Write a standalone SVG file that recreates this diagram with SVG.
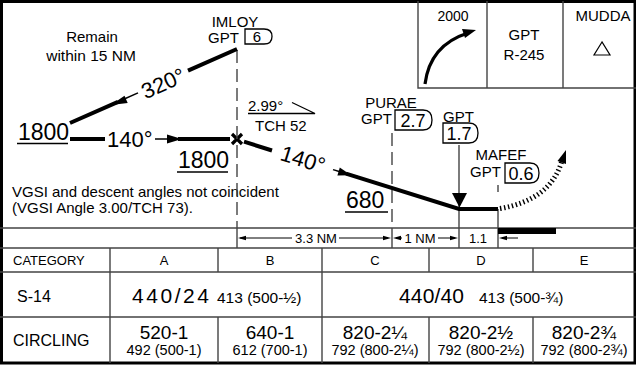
<svg xmlns="http://www.w3.org/2000/svg" width="636" height="365" viewBox="0 0 636 365">
<style>
text{font-family:"Liberation Sans",Arial,sans-serif;fill:#000}
.s15{font-size:15px}
.s13{font-size:13px}
.big{font-size:23px}
.mid{font-size:21px}
.c{text-anchor:middle}
.thick{stroke:#000;stroke-width:4;fill:none}
.thin{stroke:#000;stroke-width:1.5;fill:none}
.grid{stroke:#444;stroke-width:1.4;fill:none}
.dash{stroke:#444;stroke-width:1.4;fill:none;stroke-dasharray:13 6}
.box{stroke:#000;stroke-width:1.3;fill:#fff}
.ul{stroke:#000;stroke-width:1.3;fill:none}
.head{fill:#000}
</style>

<rect x="1.5" y="1.5" width="633.5" height="361.5" fill="#fff" stroke="#000" stroke-width="3"/>

<!-- inset box top right -->
<g id="inset">
  <path class="grid" d="M418,1 V88 H636 M487,1 V88 M563,1 V88"/>
  <text class="c" x="453" y="21" style="font-size:14px">2000</text>
  <path d="M425,84 Q430,45 468,33" stroke="#000" stroke-width="3.2" fill="none"/>
  <polygon class="head" points="476,30 465,38 462,29"/>
  <text class="s15 c" x="524" y="40">GPT</text>
  <text class="s15 c" x="524" y="60">R-245</text>
  <text class="s15 c" x="603" y="21">MUDDA</text>
  <polygon points="602,42 594,55 610,55" fill="none" stroke="#000" stroke-width="1.2"/>
</g>

<!-- notes -->
<g id="notes">
  <text class="s15 c" x="92" y="42">Remain</text>
  <text class="c" x="91" y="61" style="font-size:15.5px">within 15 NM</text>
  <text class="s15" x="12" y="197">VGSI and descent angles not coincident</text>
  <text class="s15" x="12" y="212.5">(VGSI Angle 3.00/TCH 73).</text>
</g>

<!-- fixes -->
<g id="fix-imloy">
  <text class="s15 c" x="235" y="26.5">IMLOY</text>
  <text class="s15" x="208" y="43">GPT</text>
  <path class="box" d="M245,29 H264 Q272,29 272,36.5 Q272,44 264,44 H245 Z"/>
  <text class="s15 c" x="257" y="42">6</text>
</g>
<g id="fix-purae">
  <text class="s15 c" x="391" y="108">PURAE</text>
  <text class="s15" x="361" y="124">GPT</text>
  <path class="box" d="M395,110 H423 Q432,110 432,120 Q432,130 423,130 H395 Z"/>
  <text class="c" x="413" y="127" style="font-size:18px">2.7</text>
</g>
<g id="fix-gpt17">
  <text class="s15" x="443" y="122">GPT</text>
  <path class="box" d="M443,123 H469 Q478,123 478,133 Q478,143 469,143 H443 Z"/>
  <text class="c" x="459" y="140" style="font-size:18px">1.7</text>
</g>
<g id="fix-mafef">
  <text class="s15 c" x="501" y="160">MAFEF</text>
  <text class="s15" x="470" y="177">GPT</text>
  <path class="box" d="M505,163 H530 Q539,163 539,173 Q539,183 530,183 H505 Z"/>
  <text class="c" x="521" y="180" style="font-size:18px">0.6</text>
</g>
<g id="fix-faf">
  <path d="M232,134 L242,144 M242,134 L232,144" stroke="#000" stroke-width="3.2"/>
  <text class="s15" x="248" y="111">2.99°</text>
  <path class="ul" d="M248,113.5 H315 L292,102.5"/>
  <text class="s15" x="255" y="131">TCH 52</text>
</g>

<!-- altitudes -->
<g id="altitudes">
  <text class="big" x="18" y="140">1800</text>
  <line class="ul" x1="17" y1="143.5" x2="68" y2="143.5"/>
  <text class="big" x="178" y="168">1800</text>
  <line class="ul" x1="177" y1="172" x2="228" y2="172"/>
  <text class="big" x="346" y="208">680</text>
  <line class="ul" x1="345" y1="212" x2="388" y2="212"/>
</g>

<!-- connectors -->
<g id="connectors">
  <path class="dash" d="M237,50 V228"/>
  <path class="dash" d="M392,133 V228"/>
  <path class="grid" d="M459,145 V248"/>
  <path class="grid" d="M498,185 V192 M498,209 V248 M237,228 V248 M392,228 V248"/>
  <!-- missed approach 320 -->
  <path class="thick" d="M237,49 L188,70.7 M118,101.8 L70,123"/>
  <path class="thin" d="M138,92.9 L122,100"/>
  <polygon class="head" points="111,105 124.5,95.8 127.7,103"/>
  <text class="c" transform="translate(163,83) rotate(-24)" x="0" y="8" style="font-size:22px">320°</text>
  <!-- holding inbound 140 -->
  <path class="thick" d="M70,139 H105 M178,139 H230"/>
  <path class="thin" d="M155,139 H170"/>
  <polygon class="head" points="182,139 167,134.5 167,143.5"/>
  <text x="107" y="147" style="font-size:22px">140°</text>
  <!-- descent 140 -->
  <path class="thick" d="M244,141.7 L272,150.5 M346,173.6 L459,209 H498"/>
  <path class="thin" d="M333,169.6 L340,171.8"/>
  <polygon class="head" points="351,175.2 337.4,175.4 339.8,167.5"/>
  <text class="c" transform="translate(303,159) rotate(17.4)" x="0" y="8" style="font-size:22px">140°</text>
  <polygon class="head" points="452,193 467,193 459.5,207.5"/>
  <!-- missed approach dotted -->
  <path d="M500,208.5 Q550,200 561.5,162" stroke="#000" stroke-width="5" fill="none" stroke-dasharray="1.4 2.6"/>
  <polygon class="head" points="566,150 566,164 557.5,161"/>
</g>

<!-- dimension row -->
<g id="dimensions">
  <path class="grid" d="M0,228 H636 M0,248 H636"/>
  <rect x="498" y="228" width="58" height="6" fill="#000"/>
  <path class="thin" d="M240,238 H292 M339,238 H388 M396,238 H402 M438,238 H455 M502,238 H518" style="stroke-width:1"/>
  <polygon class="head" points="238,238 246,235.8 246,240.2"/>
  <polygon class="head" points="391,238 383,235.8 383,240.2"/>
  <polygon class="head" points="393,238 401,235.8 401,240.2"/>
  <polygon class="head" points="458,238 450,235.8 450,240.2"/>
  <polygon class="head" points="499,238 507,235.8 507,240.2"/>
  <text class="s13 c" x="316" y="243">3.3 NM</text>
  <text class="s13 c" x="420" y="243">1 NM</text>
  <text class="s13 c" x="478" y="243">1.1</text>
</g>

<!-- minima table -->
<g id="minima">
  <path class="grid" d="M0,272 H636 M0,317 H636 M110,248 V363 M322,248 V363 M218,248 V272 M218,317 V363 M429,248 V272 M429,317 V363 M533,248 V272 M533,317 V363"/>
  <text class="s13" x="13" y="265">CATEGORY</text>
  <text class="s13 c" x="164" y="265">A</text>
  <text class="s13 c" x="270" y="265">B</text>
  <text class="s13 c" x="375" y="265">C</text>
  <text class="s13 c" x="481" y="265">D</text>
  <text class="s13 c" x="584" y="265">E</text>
  <text x="17" y="302" style="font-size:16px">S-14</text>
  <text class="mid" x="132" y="303" textLength="77" lengthAdjust="spacing">440/24</text>
  <text x="217" y="303" style="font-size:15.5px">413 (500-½)</text>
  <text class="mid" x="399" y="303" textLength="65" lengthAdjust="spacing">440/40</text>
  <text x="479" y="303" style="font-size:15.5px">413 (500-¾)</text>
  <text x="13" y="346" style="font-size:16px">CIRCLING</text>
  <text class="c" x="164" y="339" style="font-size:19px">520-1</text>
  <text class="c" x="164" y="355" style="font-size:14.5px">492 (500-1)</text>
  <text class="c" x="270" y="339" style="font-size:19px">640-1</text>
  <text class="c" x="270" y="355" style="font-size:14.5px">612 (700-1)</text>
  <text class="c" x="375" y="339" style="font-size:19px">820-2¼</text>
  <text class="c" x="375" y="355" style="font-size:14.5px">792 (800-2¼)</text>
  <text class="c" x="481" y="339" style="font-size:19px">820-2½</text>
  <text class="c" x="481" y="355" style="font-size:14.5px">792 (800-2½)</text>
  <text class="c" x="584" y="339" style="font-size:19px">820-2¾</text>
  <text class="c" x="584" y="355" style="font-size:14.5px">792 (800-2¾)</text>
</g>
</svg>
